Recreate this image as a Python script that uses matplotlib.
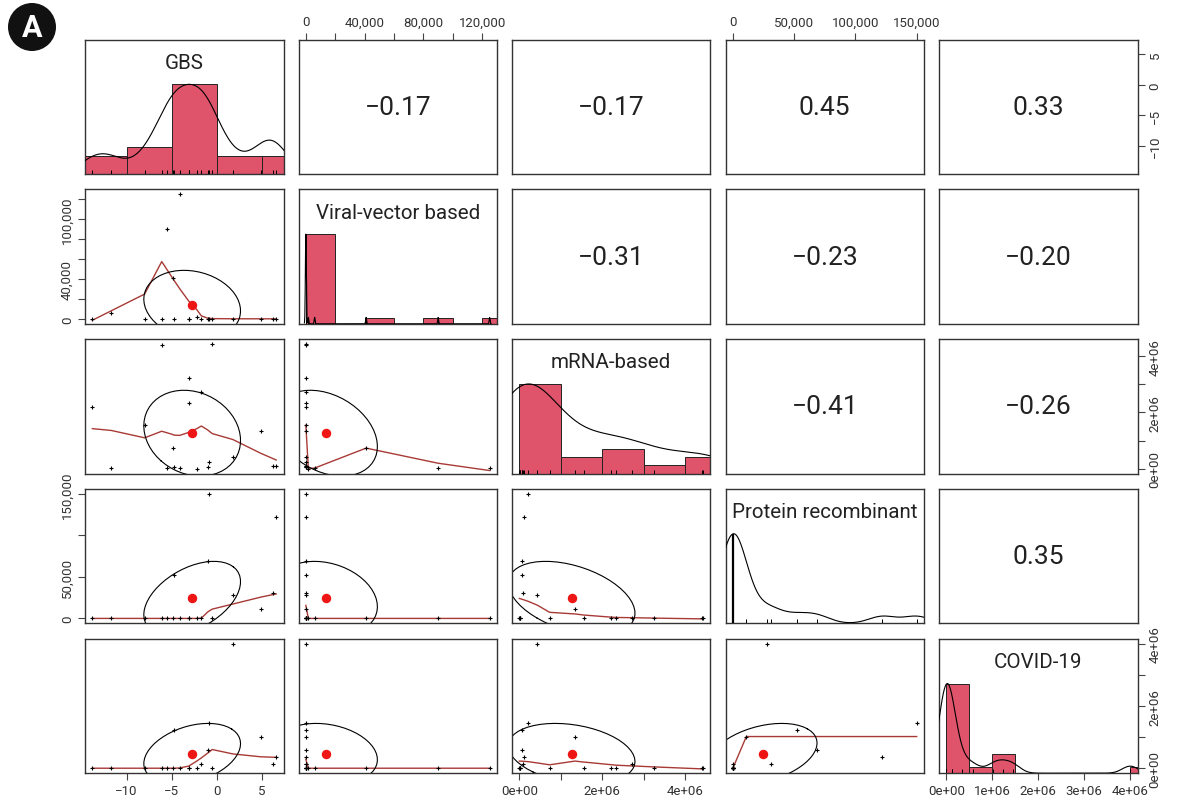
import matplotlib
matplotlib.use('Agg')
import matplotlib.pyplot as plt
import matplotlib.patches as mpatches
from matplotlib.transforms import IdentityTransform
import numpy as np

plt.rcParams['font.family'] = ['Roboto', 'DejaVu Sans']

# variable names on the diagonal
names = ['GBS', 'Viral-vector based', 'mRNA-based', 'Protein recombinant', 'COVID-19']

gbs = [-13.8, -11.7, -8.0, -6.1, -5.5, -4.9, -4.7, -4.1, -3.1, -3.1,
       -2.2, -1.7, -1.0, -0.8, -0.5, 1.8, 4.9, 6.2, 6.6]
viral = [0, 6000, 0, 0, 90000, 41000, 0, 125000, 0, 0,
         1700, 0, 0, 0, 0, 0, 0, 0, 0]
mrna = [2.20e6, 0.02e6, 1.55e6, 4.41e6, 0.02e6, 0.73e6, 0.06e6, 0.02e6, 3.24e6, 2.33e6,
        0, 2.71e6, 0.06e6, 0.22e6, 4.43e6, 0.43e6, 1.34e6, 0.08e6, 0.10e6]
protein = [0, 0, 0, 0, 0, 0, 52000, 0, 0, 0,
           0, 0, 69000, 150000, 0, 28000, 11000, 31000, 122000]
covid = [0, 0, 0, 0, 0, 0, 1.23e6, 0, 0, 0,
         0, 0.13e6, 0.58e6, 1.46e6, 0, 4.01e6, 1.02e6, 0.13e6, 0.35e6]

# correlations printed in the upper panels (row-wise upper triangle)
corr_upper = [-0.17, -0.17, 0.45, 0.33,
              -0.31, -0.23, -0.20,
              -0.41, -0.26,
              0.35]

# histogram bin width per variable (None = no bars drawn)
hist_step = [5, 20000, 1e6, None, 5e5]

# axis ticks and which of them carry labels
tick_pos = [[-10, -5, 0, 5],
            [0, 20000, 40000, 60000, 80000, 100000, 120000],
            [0, 1e6, 2e6, 3e6, 4e6],
            [0, 50000, 100000, 150000],
            [0, 1e6, 2e6, 3e6, 4e6]]
x_labeled = [[-10, -5, 0, 5], [0, 40000, 80000, 120000], [0, 2e6, 4e6],
             [0, 50000, 100000, 150000], [0, 1e6, 2e6, 3e6, 4e6]]
y_labeled = [[-10, -5, 0, 5], [0, 40000, 100000], [0, 2e6, 4e6],
             [0, 50000, 150000], [0, 2e6, 4e6]]
tick_fmt = ['plain', 'comma', 'sci', 'comma', 'sci']

data = [np.array(v, float) for v in (gbs, viral, mrna, protein, covid)]
nv = len(data)
R = np.eye(nv)
k = 0
for i in range(nv):
    for j in range(i + 1, nv):
        R[i, j] = R[j, i] = corr_upper[k]
        k += 1

HIST_COL = '#DF536B'
SMOOTH_COL = '#a83a36'
DOT_COL = '#ee1515'
TXT = '#333333'


def fmt(v, kind):
    if kind == 'sci':
        return f'{v:.0e}'
    if kind == 'comma':
        return f'{int(v):,}'
    return f'{v:g}'.replace('-', '\u2212')


def lowest(x, y, xs, nleft, nright, userw, rw):
    n = len(x)
    rng = x[-1] - x[0]
    h = max(xs - x[nleft], x[nright] - xs)
    h9, h1 = 0.999 * h, 0.001 * h
    w = np.zeros(n)
    a = 0.0
    j = nleft
    while j < n:
        r = abs(x[j] - xs)
        if r <= h9:
            w[j] = 1.0 if r <= h1 else (1 - (r / h) ** 3) ** 3
            if userw:
                w[j] *= rw[j]
            a += w[j]
        elif x[j] > xs:
            break
        j += 1
    nrt = j - 1
    if a <= 0:
        return None
    ww = w[nleft:nrt + 1] / a
    xx = x[nleft:nrt + 1]
    if h > 0:
        a = np.sum(ww * xx)
        b = xs - a
        c = np.sum(ww * (xx - a) ** 2)
        if np.sqrt(c) > 0.001 * rng:
            ww = ww * (b / c * (xx - a) + 1.0)
    return np.sum(ww * y[nleft:nrt + 1])


def lowess(x, y, f=2 / 3, iters=3):
    # port of R's clowess
    o = np.argsort(x, kind='stable')
    x = np.asarray(x, float)[o]
    y = np.asarray(y, float)[o]
    n = len(x)
    delta = 0.01 * (x[-1] - x[0])
    ns = max(2, min(n, int(f * n + 1e-7)))
    ys = np.zeros(n)
    rw = np.ones(n)
    for it in range(iters + 1):
        nleft, nright, last, i = 0, ns - 1, -1, 0
        while True:
            if nright < n - 1:
                if x[i] - x[nleft] > x[nright + 1] - x[i]:
                    nleft += 1
                    nright += 1
                    continue
            v = lowest(x, y, x[i], nleft, nright, it > 0, rw)
            ys[i] = y[i] if v is None else v
            if last < i - 1:
                denom = x[i] - x[last]
                for jj in range(last + 1, i):
                    al = (x[jj] - x[last]) / denom
                    ys[jj] = al * ys[i] + (1 - al) * ys[last]
            last = i
            cut = x[last] + delta
            i = last + 1
            while i < n:
                if x[i] > cut:
                    break
                if x[i] == x[last]:
                    ys[i] = ys[last]
                    last = i
                i += 1
            i = max(last + 1, i - 1)
            if last >= n - 1:
                break
        if it >= iters:
            break
        res = np.abs(y - ys)
        sc = res.mean()
        cmad = 6 * np.median(res)
        if cmad < 1e-7 * sc:
            break
        rw = np.where(res <= 0.001 * cmad, 1.0,
                      np.where(res <= 0.999 * cmad, (1 - (res / cmad) ** 2) ** 2, 0.0))
    return x, ys


def density(x):
    n = len(x)
    hi = np.std(x, ddof=1)
    q75, q25 = np.percentile(x, [75, 25])
    lo = min(hi, (q75 - q25) / 1.34)
    if lo == 0:
        lo = hi or abs(x[0]) or 1
    bw = 0.9 * lo * n ** -0.2
    grid = np.linspace(x.min() - 3 * bw, x.max() + 3 * bw, 512)
    d = np.exp(-0.5 * ((grid[:, None] - x[None, :]) / bw) ** 2).sum(1)
    return grid, d / d.max()


lims = []
for v in data:
    rg = v.max() - v.min()
    lims.append((v.min() - 0.04 * rg, v.max() + 0.04 * rg))

W, H = 1182, 804
fig = plt.figure(figsize=(W / 100, H / 100), dpi=100)

left0, step_x, pw = 85, 213.5, 198.5
top0, step_y, ph = 40.5, 149.8, 134.5

theta = np.linspace(0, 2 * np.pi, 52)
unit = np.column_stack([np.cos(theta), np.sin(theta)])

tick_kw = dict(direction='out', length=5, width=0.8, color='#444444',
               labelsize=9.5, labelcolor=TXT, pad=3)


def style_ticks(axis, var, labeled, kind):
    pos = tick_pos[var]
    labels = [fmt(p, kind) if p in labeled else '' for p in pos]
    axis.set_ticks(pos)
    axis.set_ticklabels(labels)


for i in range(nv):
    for j in range(nv):
        x0 = (left0 + j * step_x) / W
        y0 = 1 - (top0 + i * step_y + ph) / H
        ax = fig.add_axes([x0, y0, pw / W, ph / H])
        for s in ax.spines.values():
            s.set_color('#333333')
            s.set_linewidth(1.0)
        ax.tick_params(which='both', bottom=False, top=False, left=False, right=False,
                       labelbottom=False, labeltop=False, labelleft=False, labelright=False,
                       **tick_kw)
        ax.set_xlim(lims[j])
        xv = data[j]
        if i == j:
            ax.set_ylim(0, 1.5)
            step = hist_step[i]
            if step is not None:
                lo_e = np.floor(xv.min() / step) * step
                hi_e = np.ceil(xv.max() / step) * step
                edges = np.arange(lo_e, hi_e + step / 2, step)
                cnt, _ = np.histogram(xv, bins=edges)
                ax.bar(edges[:-1], cnt / cnt.max(), width=step, align='edge',
                       color=HIST_COL, edgecolor='#222222', linewidth=0.7, zorder=1)
            else:
                ax.vlines(xv.min(), 0, 1, color='black', lw=1.6, zorder=2)
            gx, gy = density(xv)
            ax.plot(gx, gy, color='black', lw=0.8, zorder=3)
            ax.vlines(xv, 0, 0.03, transform=ax.get_xaxis_transform(),
                      color='black', lw=0.7, zorder=4)
            ax.text(0.5, 0.83, names[i], transform=ax.transAxes, ha='center',
                    va='center', fontsize=14.8, color='#222222')
        elif i < j:
            ax.set_ylim(lims[i])
            ax.text(0.5, 0.5, f'{R[i, j]:.2f}'.replace('-', '\u2212'),
                    transform=ax.transAxes, ha='center', va='center',
                    fontsize=19, color='#222222')
        else:
            yv = data[i]
            ax.set_ylim(lims[i])
            ax.plot(xv, yv, '+', color='black', ms=3.5, mew=0.8, zorder=3)
            sx, sy = lowess(xv, yv)
            ax.plot(sx, sy, color=SMOOTH_COL, lw=1.0, zorder=2)
            r = R[i, j]
            th = np.sign(r) / np.sqrt(2) if abs(r) > 0 else 1 / np.sqrt(2)
            shape = np.diag([np.sqrt(1 + r), np.sqrt(1 - r)]) @ np.array([[th, th], [-th, th]])
            el = unit @ shape
            ax.plot(el[:, 0] * xv.std(ddof=1) + xv.mean(),
                    el[:, 1] * yv.std(ddof=1) + yv.mean(), color='black', lw=0.8, zorder=2)
            ax.plot(xv.mean(), yv.mean(), 'o', color=DOT_COL, ms=5.8, mec=DOT_COL, zorder=4)

        # outer axes, alternating like R's pairs()
        if i == nv - 1 and j % 2 == 0:
            style_ticks(ax.xaxis, j, x_labeled[j], tick_fmt[j])
            ax.tick_params(axis='x', bottom=True, labelbottom=True)
        if i == 0 and j % 2 == 1:
            style_ticks(ax.xaxis, j, x_labeled[j], tick_fmt[j])
            ax.tick_params(axis='x', top=True, labeltop=True)
        if j == 0 and i % 2 == 1:
            style_ticks(ax.yaxis, i, y_labeled[i], tick_fmt[i])
            ax.tick_params(axis='y', left=True, labelleft=True, labelrotation=90)
            for t in ax.get_yticklabels():
                t.set_va('center')
        if j == nv - 1 and i % 2 == 0:
            target = ax
            if i == j:
                # diagonal panel: y axis shows the variable's own range
                target = ax.twinx()
                target.set_ylim(lims[i])
                for s in target.spines.values():
                    s.set_visible(False)
                ax.tick_params(axis='y', which='both', left=False, labelleft=False,
                               right=False, labelright=False)
            style_ticks(target.yaxis, i, y_labeled[i], tick_fmt[i])
            target.tick_params(axis='y', which='both', left=False, labelleft=False,
                               right=True, labelright=True, labelrotation=90, **tick_kw)
            for t in target.get_yticklabels():
                t.set_va('center')

# panel badge
badge = mpatches.Circle((32, H - 28), 24, transform=IdentityTransform(),
                        facecolor='#111111', edgecolor='none')
fig.add_artist(badge)
fig.text(32 / W, 1 - 28 / H, 'A', ha='center', va='center', fontsize=22,
         fontweight='bold', color='white')

fig.savefig('out.png', dpi=100)
